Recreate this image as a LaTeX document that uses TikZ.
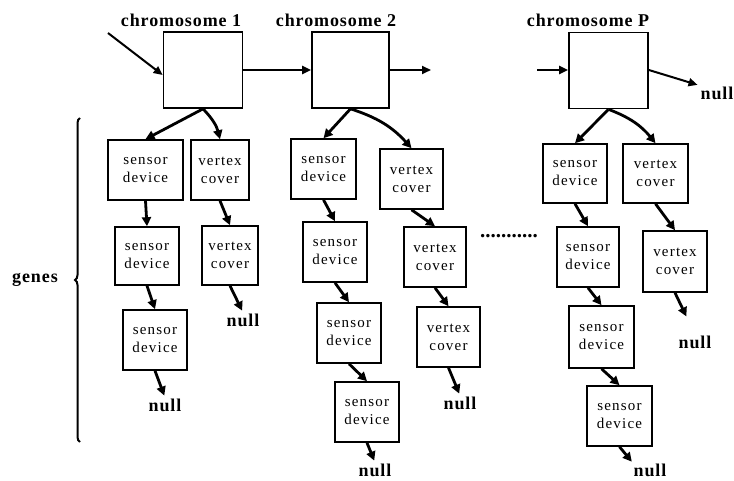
\documentclass[tikz,border=0pt]{standalone}
\usepackage{fontspec}
\setmainfont{Liberation Serif}
\newfontfamily\genefont[LetterSpace=8]{Liberation Serif}
\newfontfamily\headfont[LetterSpace=5]{Liberation Serif}
\usepackage{tikz}
\usetikzlibrary{arrows.meta, positioning, decorations.pathreplacing}

\begin{document}
\begin{tikzpicture}[
    x=1pt, y=-1pt,
    chrom/.style={rectangle, draw, line width=1.7pt, fill=white,
                  minimum width=79pt, minimum height=76pt, inner sep=0pt},
    gene/.style={rectangle, draw, line width=1.6pt, fill=white, align=center,
                 minimum width=64pt, minimum height=60pt, inner sep=0pt,
                 font=\genefont\fontsize{15}{18}\selectfont},
    head_s/.style={font=\headfont\bfseries\fontsize{18}{20}\selectfont, inner sep=0pt},
    null_s/.style={font=\headfont\bfseries\fontsize{18}{20}\selectfont, inner sep=1pt},
    arrow/.style={-{Triangle[length=9pt, width=8pt]}, line width=2pt},
    link/.style={-{Triangle[length=9pt, width=9pt]}, line width=2.8pt},
]
\useasboundingbox (0,0) rectangle (734,481);

% Row 1: chromosomes
\node[chrom] (c1) at (203,70) {};
\node[chrom, minimum width=77pt] (c2) at (350.5,70) {};
\node[chrom] (cP) at (608.5,70.5) {};
\node[head_s] (c1lab) at (181,20) {chromosome 1};
\node[head_s] (c2lab) at (336,20) {chromosome 2};
\node[head_s] (cPlab) at (588,20) {chromosome P};
\coordinate (in1) at (108,33);
\coordinate (out2) at (431,70);
\coordinate (inP) at (537,70);
\node[null_s] (nullP) at (717,93) {null};

% Genes of chromosome 1
\node[gene, minimum width=75pt] (s11) at (145.5,170) {sensor\\device};
\node[gene, minimum width=58pt] (v11) at (220,170) {vertex\\cover};
\node[gene, minimum height=58pt] (s12) at (147,256) {sensor\\device};
\node[gene, minimum width=56pt, minimum height=59pt] (v12) at (230,255.5) {vertex\\cover};
\node[gene] (s13) at (155,340) {sensor\\device};
\node[null_s] (n13) at (165,405) {null};
\node[null_s] (n12) at (243,320) {null};

% Genes of chromosome 2
\node[gene, minimum width=65pt] (s21) at (323.5,169) {sensor\\device};
\node[gene, minimum width=63pt] (v21) at (411.5,179) {vertex\\cover};
\node[gene] (s22) at (335,252) {sensor\\device};
\node[gene, minimum width=62pt] (v22) at (435,257) {vertex\\cover};
\node[gene] (s23) at (349,333) {sensor\\device};
\node[gene, minimum width=63pt] (v23) at (448.5,337) {vertex\\cover};
\node[gene] (s24) at (367,412) {sensor\\device};
\node[null_s] (n24) at (375,470) {null};
\node[null_s] (n23) at (460,403) {null};

\node[font=\bfseries\fontsize{21}{21}\selectfont, inner sep=0pt] (dots) at (509,236) {...........};

% Genes of chromosome P
\node[gene, minimum height=59pt] (sP1) at (575,173.5) {sensor\\device};
\node[gene, minimum width=65pt, minimum height=59pt] (vP1) at (655.5,173.5) {vertex\\cover};
\node[gene, minimum width=62pt] (sP2) at (588,257) {sensor\\device};
\node[gene, minimum height=61pt] (vP2) at (675,261.5) {vertex\\cover};
\node[gene, minimum width=65pt, minimum height=62pt] (sP3) at (601.5,337) {sensor\\device};
\node[gene, minimum width=65pt] (sP4) at (619.5,416) {sensor\\device};
\node[null_s] (nP2) at (695,342) {null};
\node[null_s] (nP4) at (650,470) {null};

% genes brace
\draw[line width=2pt, decorate, decoration={brace, amplitude=5pt}]
    (80,442) -- (80,118) coordinate[midway] (bracetip);
\node[head_s, left=22pt of bracetip] (genes) {genes};

% Arrows between chromosomes
\draw[arrow] (in1) -- (c1.west |- 0,75);
\draw[arrow] (c1) -- (c2);
\draw[arrow] (c2) -- (out2);
\draw[arrow] (inP) -- (cP.west |- 0,70);
\draw[arrow, shorten >=2pt] (cP.east |- 0,70) -- (nullP.north west);

% Arrows to genes
\draw[link] (c1.south) -- (s11.north);
\draw[link] (c1.south) to[bend left=15] (v11.north);
\draw[link] (s11.south) -- (s12.north);
\draw[link] (s12.south) -- (s13.north);
\draw[link] (v11.south) -- (v12.north);
\draw[link, shorten >=2pt] (s13.south) -- (n13.north);
\draw[link, shorten >=2pt] (v12.south) -- (n12.north);

\draw[link] (c2.south) -- (s21.north);
\draw[link] (c2.south) to[bend left=15] (v21.north);
\draw[link] (s21.south) -- (s22.north);
\draw[link] (s22.south) -- (s23.north);
\draw[link] (s23.south) -- (s24.north);
\draw[link] (v21.south) -- (v22.north);
\draw[link] (v22.south) -- (v23.north);
\draw[link, shorten >=2pt] (s24.south) -- (n24.north);
\draw[link, shorten >=2pt] (v23.south) -- (n23.north);

\draw[link] (cP.south) -- (sP1.north);
\draw[link] (cP.south) to[bend left=15] (vP1.north);
\draw[link] (sP1.south) -- (sP2.north);
\draw[link] (sP2.south) -- (sP3.north);
\draw[link] (sP3.south) -- (sP4.north);
\draw[link] (vP1.south) -- (vP2.north);
\draw[link, shorten >=20pt] (vP2.south) -- (nP2.north);
\draw[link, shorten >=1pt] (sP4.south) -- (nP4.north west);

\end{tikzpicture}
\end{document}
